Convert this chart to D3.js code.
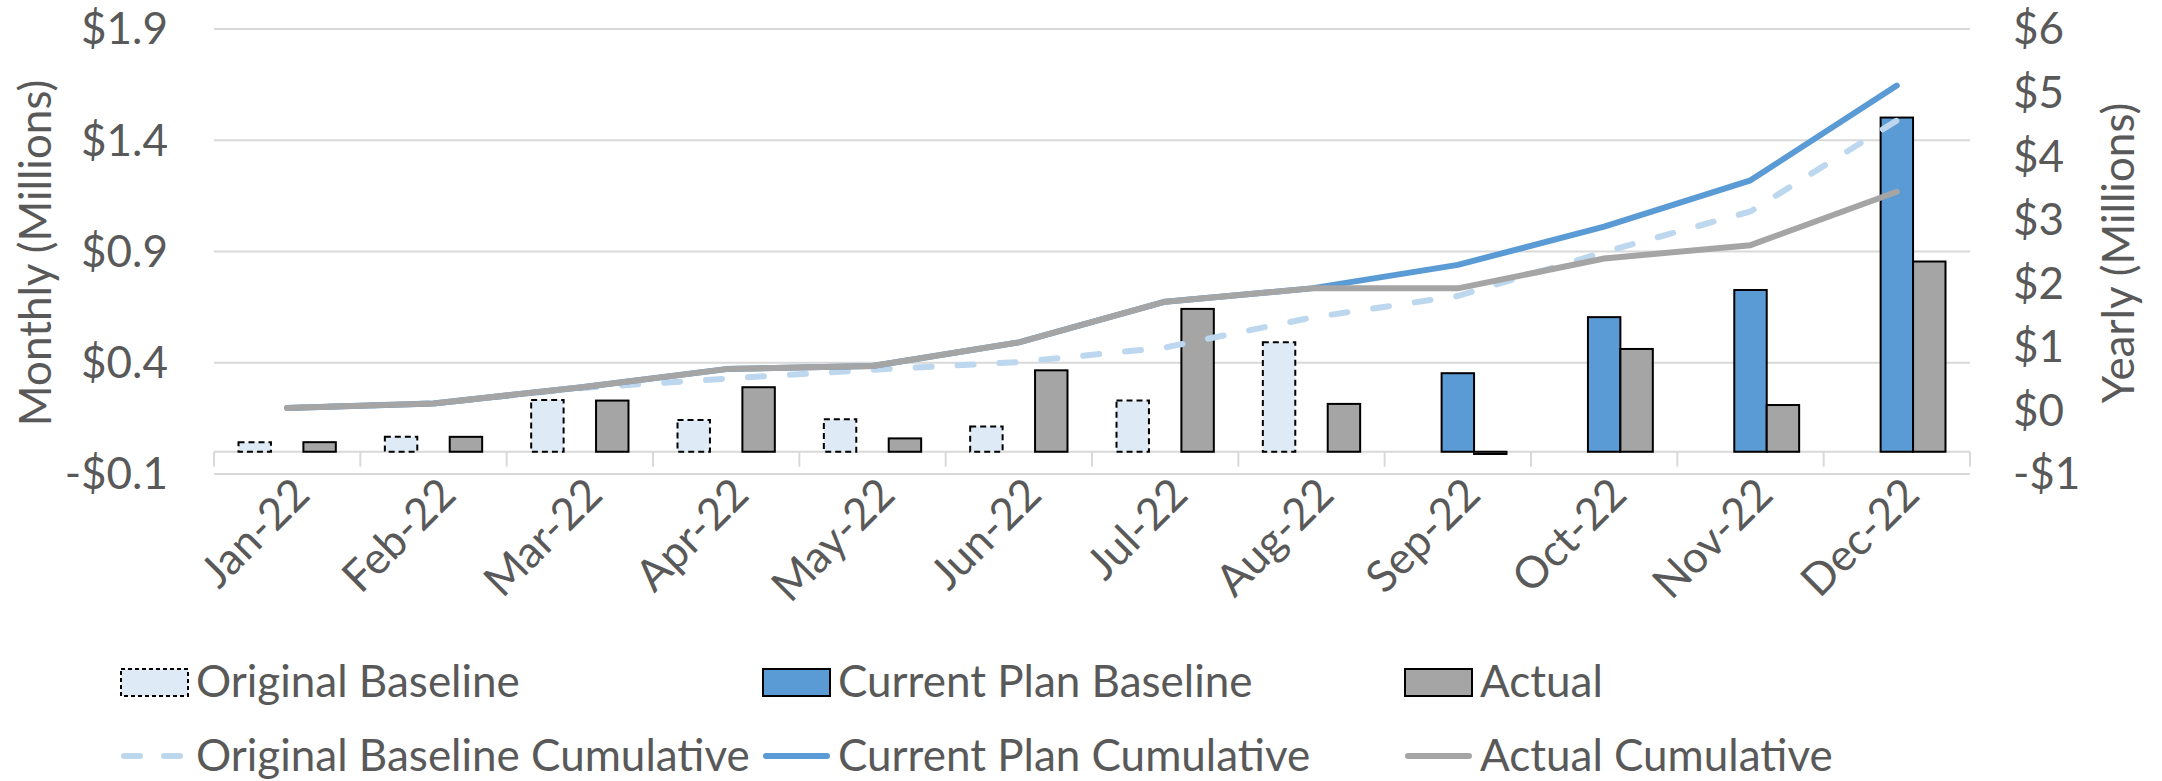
<!DOCTYPE html>
<html>
<head>
<meta charset="utf-8">
<script src="https://cdn.jsdelivr.net/npm/d3@7"></script>
<style>
  html, body { margin: 0; padding: 0; background: #fff; }
  text { font-family: Lato, "Open Sans", sans-serif; fill: #595959; }
</style>
</head>
<body>
<div id="chart"></div>
<script>
// Values in $ millions
var months = ["Jan-22","Feb-22","Mar-22","Apr-22","May-22","Jun-22","Jul-22","Aug-22","Sep-22","Oct-22","Nov-22","Dec-22"];

var originalBaseline = [0.043, 0.067, 0.233, 0.143, 0.146, 0.113, 0.23, 0.492, null, null, null, null];
var currentPlan      = [null, null, null, null, null, null, null, null, 0.353, 0.605, 0.727, 1.502];
var actual           = [0.043, 0.067, 0.23, 0.29, 0.06, 0.366, 0.642, 0.215, -0.01, 0.462, 0.21, 0.855];

var originalCumulative = [0.04, 0.11, 0.35, 0.50, 0.64, 0.76, 0.99, 1.46, 1.80, 2.49, 3.13, 4.56];
var currentCumulative  = [0.04, 0.11, 0.36, 0.65, 0.70, 1.07, 1.71, 1.92, 2.29, 2.89, 3.62, 5.11];
var actualCumulative   = [0.04, 0.11, 0.36, 0.65, 0.70, 1.07, 1.71, 1.92, 1.92, 2.39, 2.60, 3.44];

var leftTicks  = [-0.1, 0.4, 0.9, 1.4, 1.9];
var rightTicks = [-1, 0, 1, 2, 3, 4, 5, 6];

var barSeries = [
  {name: "Original Baseline",    values: originalBaseline, fill: "#DEEBF7", dash: "6,4"},
  {name: "Current Plan Baseline", values: currentPlan,     fill: "#5B9BD5", dash: null},
  {name: "Actual",               values: actual,           fill: "#A5A5A5", dash: null}
];
var lineSeries = [
  {name: "Original Baseline Cumulative", values: originalCumulative, color: "#BDD7EE", dash: "16,26"},
  {name: "Current Plan Cumulative",      values: currentCumulative,  color: "#5B9BD5", dash: null},
  {name: "Actual Cumulative",            values: actualCumulative,   color: "#A5A5A5", dash: null}
];

var width = 2162, height = 781;
var plot = {left: 214, right: 1970, top: 29, bottom: 474};
var fontSize = 44;

var svg = d3.select("#chart").append("svg")
    .attr("width", width)
    .attr("height", height);

svg.append("rect").attr("width", width).attr("height", height).attr("fill", "#fff");

var x = d3.scaleBand()
    .domain(months)
    .range([plot.left, plot.right])
    .paddingInner(0.335)
    .paddingOuter(0.1675);

var xs = d3.scaleBand()
    .domain(barSeries.map(function(s) { return s.name; }))
    .range([0, x.bandwidth()]);

var yLeft = d3.scaleLinear().domain([-0.1, 1.9]).range([plot.bottom, plot.top]);
var yRight = d3.scaleLinear().domain([-1, 6]).range([plot.bottom, plot.top]);

function money(v, digits) {
  var s = "$" + d3.format("." + digits + "f")(Math.abs(v));
  return v < 0 ? "-" + s : s;
}

// gridlines
svg.append("g")
  .selectAll("line")
  .data(leftTicks)
  .enter().append("line")
    .attr("x1", plot.left).attr("x2", plot.right)
    .attr("y1", function(d) { return yLeft(d); })
    .attr("y2", function(d) { return yLeft(d); })
    .attr("stroke", "#D9D9D9")
    .attr("stroke-width", 2);

// category axis at zero with boundary ticks
var zeroY = yLeft(0);
svg.append("line")
  .attr("x1", plot.left).attr("x2", plot.right)
  .attr("y1", zeroY).attr("y2", zeroY)
  .attr("stroke", "#D9D9D9").attr("stroke-width", 2);

var step = x.step();
svg.append("g")
  .selectAll("line")
  .data(d3.range(months.length + 1))
  .enter().append("line")
    .attr("x1", function(i) { return plot.left + i * step; })
    .attr("x2", function(i) { return plot.left + i * step; })
    .attr("y1", zeroY).attr("y2", zeroY + 15)
    .attr("stroke", "#D9D9D9").attr("stroke-width", 2);

// left axis labels
svg.append("g")
  .selectAll("text")
  .data(leftTicks)
  .enter().append("text")
    .attr("x", 168)
    .attr("y", function(d) { return yLeft(d); })
    .attr("dy", "0.35em")
    .attr("text-anchor", "end")
    .style("font-size", fontSize + "px")
    .text(function(d) { return money(d, 1); });

// right axis labels
svg.append("g")
  .selectAll("text")
  .data(rightTicks)
  .enter().append("text")
    .attr("x", 2013)
    .attr("y", function(d) { return yRight(d); })
    .attr("dy", "0.35em")
    .attr("text-anchor", "start")
    .style("font-size", fontSize + "px")
    .text(function(d) { return money(d, 0); });

// axis titles
svg.append("text")
  .attr("transform", "translate(36,253) rotate(-90)")
  .attr("dy", "0.35em")
  .attr("text-anchor", "middle")
  .style("font-size", fontSize + "px")
  .text("Monthly (Millions)");

svg.append("text")
  .attr("transform", "translate(2119,253) rotate(-90)")
  .attr("dy", "0.35em")
  .attr("text-anchor", "middle")
  .style("font-size", fontSize + "px")
  .text("Yearly (Millions)");

// month labels
svg.append("g")
  .selectAll("text")
  .data(months)
  .enter().append("text")
    .attr("transform", function(d) {
      return "translate(" + (x(d) + x.bandwidth() / 2 + 14) + "," + 486 + ") rotate(-45)";
    })
    .attr("text-anchor", "end")
    .attr("dy", "0.35em")
    .style("font-size", fontSize + "px")
    .text(function(d) { return d; });

// bars
barSeries.forEach(function(s) {
  svg.append("g")
    .selectAll("rect")
    .data(s.values.map(function(v, i) { return {month: months[i], v: v}; })
                  .filter(function(d) { return d.v != null; }))
    .enter().append("rect")
      .attr("x", function(d) { return x(d.month) + xs(s.name); })
      .attr("width", xs.bandwidth())
      .attr("y", function(d) { return Math.min(yLeft(d.v), zeroY); })
      .attr("height", function(d) { return Math.max(Math.abs(yLeft(d.v) - zeroY), 1); })
      .attr("fill", s.fill)
      .attr("stroke", "#000")
      .attr("stroke-width", 2)
      .attr("stroke-dasharray", s.dash);
});

// cumulative lines
var line = d3.line()
    .x(function(d, i) { return x(months[i]) + x.bandwidth() / 2; })
    .y(function(d) { return yRight(d); });

lineSeries.forEach(function(s) {
  svg.append("path")
    .attr("d", line(s.values))
    .attr("fill", "none")
    .attr("stroke", s.color)
    .attr("stroke-width", 6)
    .attr("stroke-linecap", "round")
    .attr("stroke-linejoin", "round")
    .attr("stroke-dasharray", s.dash);
});

// legend
var legendX = [121, 763, 1405];
var legend = svg.append("g");

barSeries.forEach(function(s, i) {
  legend.append("rect")
    .attr("x", legendX[i]).attr("y", 669)
    .attr("width", 67).attr("height", 27)
    .attr("fill", s.fill)
    .attr("stroke", "#000")
    .attr("stroke-width", 2)
    .attr("stroke-dasharray", s.dash ? "4,3" : null);
  legend.append("text")
    .attr("x", legendX[i] + 75).attr("y", 682)
    .attr("dy", "0.35em")
    .style("font-size", fontSize + "px")
    .text(s.name);
});

lineSeries.forEach(function(s, i) {
  legend.append("line")
    .attr("x1", legendX[i] + 3).attr("x2", legendX[i] + 64)
    .attr("y1", 756).attr("y2", 756)
    .attr("stroke", s.color)
    .attr("stroke-width", 6)
    .attr("stroke-linecap", "round")
    .attr("stroke-dasharray", s.dash ? "16,24" : null);
  legend.append("text")
    .attr("x", legendX[i] + 75).attr("y", 756)
    .attr("dy", "0.35em")
    .style("font-size", fontSize + "px")
    .text(s.name);
});
</script>
</body>
</html>
